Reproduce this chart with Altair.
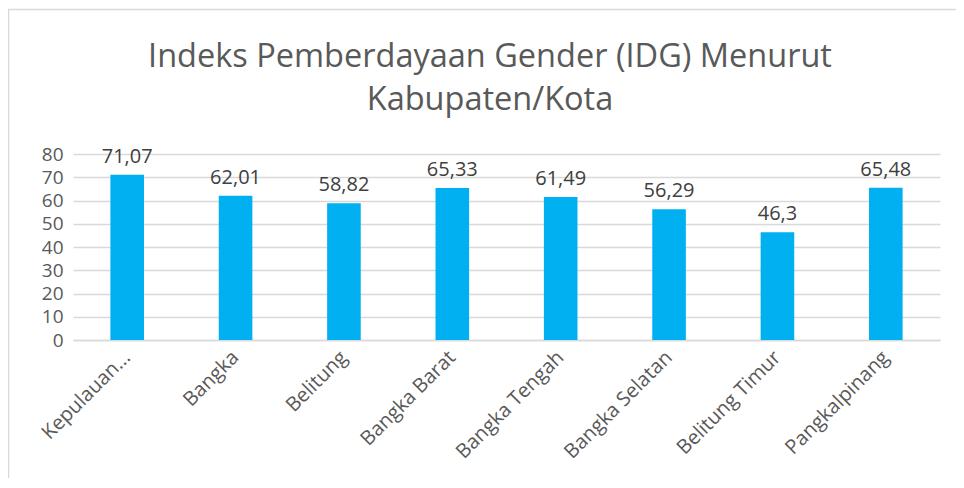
import altair as alt
import pandas as pd

categories = ["Kepulauan...", "Bangka", "Belitung", "Bangka Barat", "Bangka Tengah",
              "Bangka Selatan", "Belitung Timur", "Pangkalpinang"]
values = [71.07, 62.01, 58.82, 65.33, 61.49, 56.29, 46.3, 65.48]
labels = ["71,07", "62,01", "58,82", "65,33", "61,49", "56,29", "46,3", "65,48"]
title_text = "Indeks Pemberdayaan Gender (IDG) Menurut\nKabupaten/Kota"
y_ticks = [0, 10, 20, 30, 40, 50, 60, 70, 80]

df = pd.DataFrame({"cat": categories, "val": values, "lab": labels})

FONT = "Open Sans"
W, H = 867, 186

x_enc = alt.X("cat:N", sort=categories, title=None,
              scale=alt.Scale(paddingInner=0.69, paddingOuter=0.345),
              axis=alt.Axis(labelAngle=-45, labelAlign="right", labelBaseline="middle",
                            labelFontSize=20, labelColor="#595959", labelFont=FONT,
                            labelPadding=14, ticks=False, domainColor="#d9d9d9",
                            domainWidth=1.5, grid=False, labelOverlap=False))
y_enc = alt.Y("val:Q", title=None,
              scale=alt.Scale(domain=[0, 80], nice=False),
              axis=alt.Axis(values=y_ticks, labelFontSize=19,
                            labelColor="#595959", labelFont=FONT, labelPadding=10,
                            ticks=False, domain=False, gridColor="#d9d9d9",
                            gridWidth=1.5, labelOverlap=False))

bars = alt.Chart(df).mark_bar(color="#00B0F0").encode(x=x_enc, y=y_enc)
text = alt.Chart(df).mark_text(baseline="bottom", dy=-8, fontSize=20, color="#404040",
                               font=FONT).encode(x=x_enc, y=y_enc, text="lab:N")
one = pd.DataFrame({"t": [title_text]})
border = alt.Chart(one).mark_rect(
    filled=False, stroke="#d9d9d9", strokeWidth=1.5
).encode(x=alt.value(-64.5), x2=alt.value(W + 60), y=alt.value(-144.5), y2=alt.value(H + 300))
title = alt.Chart(one).mark_text(
    fontSize=32.5, font=FONT, color="#595959", align="center", baseline="alphabetic",
    lineBreak="\n", lineHeight=43
).encode(x=alt.value(417), y=alt.value(-87), text="t:N")

chart = alt.layer(border, bars, text, title).properties(
    width=W, height=H,
    autosize=alt.AutoSizeParams(type="none"),
    padding={"left": 65, "top": 146, "right": 16, "bottom": 138},
).configure_view(stroke=None)

chart.save("out.html", embed_options={"renderer": "svg", "actions": False})
